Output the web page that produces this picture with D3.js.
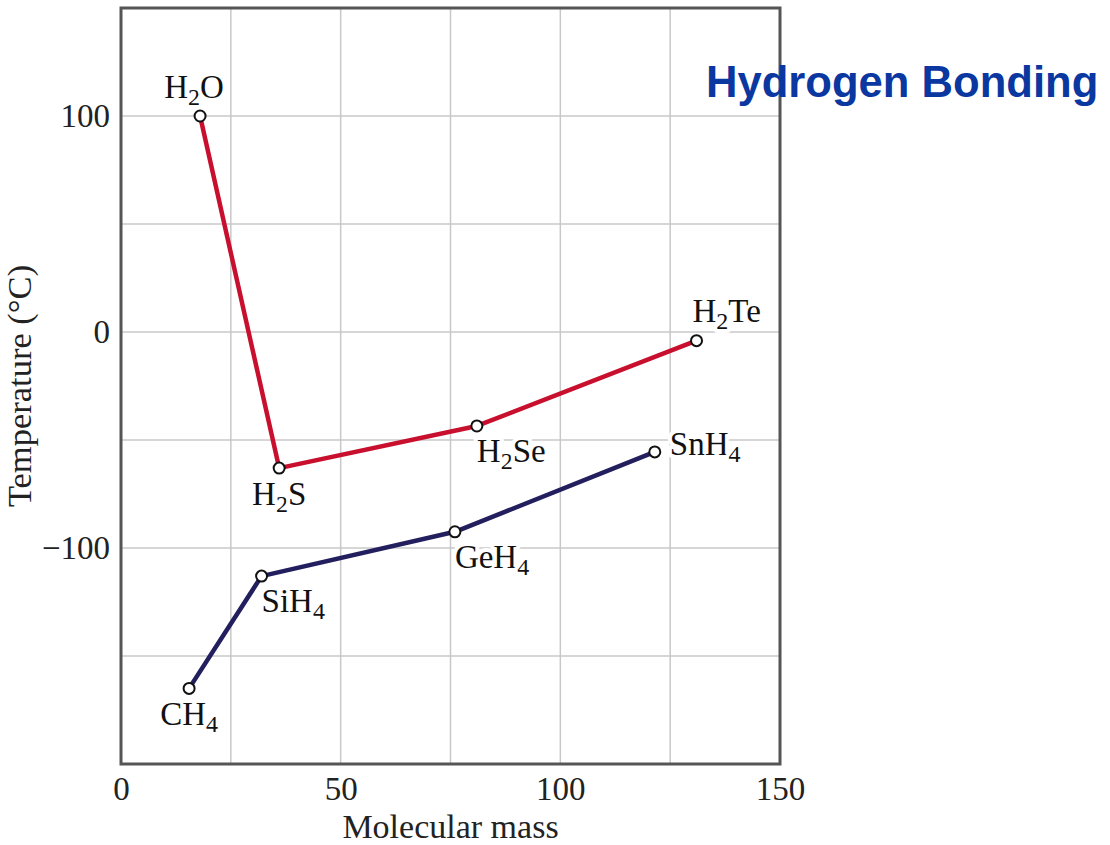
<!DOCTYPE html>
<html><head><meta charset="utf-8">
<script src="https://cdn.jsdelivr.net/npm/d3@7/dist/d3.min.js"></script>
<style>body{margin:0;background:#fff}</style>
</head><body>
<svg id="c" width="1110" height="845"></svg>
<script>
// Data
const hydrideNames = ["H2O", "H2S", "H2Se", "H2Te"];
const hydrideMass  = [18, 36, 81, 131];
const hydrideTemp  = [100, -63, -43.5, -4];
const hydridePlace = ["above", "below", "belowRight", "aboveRight"];

const group14Names = ["CH4", "SiH4", "GeH4", "SnH4"];
const group14Mass  = [15.5, 32, 76, 121.5];
const group14Temp  = [-165, -113, -92.5, -55.5];
const group14Place = ["below", "belowRight", "belowRight", "right"];

const xTicks = [0, 50, 100, 150];
const yTicks = [100, 0, -100];
const xGrid = [25, 50, 75, 100, 125];
const yGrid = [-150, -100, -50, 0, 50, 100];

const svg = d3.select("#c");
const x = d3.scaleLinear().domain([0, 150]).range([121, 780]);
const y = d3.scaleLinear().domain([-200, 150]).range([764, 8]);
const serif = "'Liberation Serif', 'Times New Roman', serif";

// grid
svg.append("g").selectAll("line").data(xGrid).join("line")
  .attr("x1", d => x(d)).attr("x2", d => x(d)).attr("y1", y(150)).attr("y2", y(-200))
  .attr("stroke", "#c8c8c8").attr("stroke-width", 1.5);
svg.append("g").selectAll("line").data(yGrid).join("line")
  .attr("y1", d => y(d)).attr("y2", d => y(d)).attr("x1", x(0)).attr("x2", x(150))
  .attr("stroke", "#c8c8c8").attr("stroke-width", 1.5);

// axes (labels only)
const xAxis = d3.axisBottom(x).tickValues(xTicks).tickSize(0).tickPadding(13).tickFormat(d3.format("d"));
const gx = svg.append("g").attr("transform", `translate(0,${y(-200)})`).call(xAxis);
gx.select(".domain").remove();
gx.selectAll("text").attr("font-family", serif).attr("font-size", 33).attr("fill", "#222").attr("dy", "0.71em");

const yAxis = d3.axisLeft(y).tickValues(yTicks).tickSize(0).tickPadding(11)
  .tickFormat(d => d < 0 ? "\u2212" + Math.abs(d) : String(d));
const gy = svg.append("g").attr("transform", `translate(${x(0)},0)`).call(yAxis);
gy.select(".domain").remove();
gy.selectAll("text").attr("font-family", serif).attr("font-size", 33).attr("fill", "#222");

// frame
svg.append("rect").attr("x", x(0)).attr("y", y(150))
  .attr("width", x(150) - x(0)).attr("height", y(-200) - y(150))
  .attr("fill", "none").attr("stroke", "#555").attr("stroke-width", 3);

// axis titles
svg.append("text").attr("x", (x(0) + x(150)) / 2).attr("y", 838)
  .attr("text-anchor", "middle").attr("font-family", serif).attr("font-size", 34).attr("fill", "#222")
  .text("Molecular mass");
svg.append("text").attr("transform", `translate(31,${(y(150) + y(-200)) / 2}) rotate(-90)`)
  .attr("text-anchor", "middle").attr("font-family", serif).attr("font-size", 34.5).attr("fill", "#222")
  .text("Temperature (°C)");

// title
svg.append("text").attr("x", 706).attr("y", 97)
  .attr("font-family", "'Liberation Sans', Arial, sans-serif").attr("font-weight", "bold")
  .attr("font-size", 43.6).attr("fill", "#0a37a0").text("Hydrogen Bonding");

const offsets = {
  above: {dx: -6, dy: -18, anchor: "middle"},
  below: {dx: 0, dy: 37, anchor: "middle"},
  belowRight: {dx: 0, dy: 36, anchor: "start"},
  aboveRight: {dx: -4, dy: -19, anchor: "start"},
  right: {dx: 15, dy: 3, anchor: "start"}
};

function drawSeries(names, mass, temp, place, color) {
  const pts = names.map((n, i) => ({n, m: mass[i], t: temp[i], p: place[i]}));
  const line = d3.line().x(d => x(d.m)).y(d => y(d.t));
  svg.append("path").datum(pts).attr("d", line).attr("fill", "none")
    .attr("stroke", color).attr("stroke-width", 4.5).attr("stroke-linejoin", "round");
  svg.append("g").selectAll("circle").data(pts).join("circle")
    .attr("cx", d => x(d.m)).attr("cy", d => y(d.t)).attr("r", 5.5)
    .attr("fill", "#fff").attr("stroke", "#111").attr("stroke-width", 2);
  const labels = svg.append("g").selectAll("text").data(pts).join("text")
    .attr("x", d => x(d.m) + offsets[d.p].dx).attr("y", d => y(d.t) + offsets[d.p].dy)
    .attr("text-anchor", d => offsets[d.p].anchor)
    .attr("font-family", serif).attr("font-size", 33).attr("fill", "#111")
    .attr("stroke", "#fff").attr("stroke-width", 8).attr("paint-order", "stroke")
    .attr("stroke-linejoin", "round");
  labels.each(function(d) {
    const t = d3.select(this);
    const parts = d.n.match(/[A-Za-z]+|\d+/g);
    let sub = false;
    parts.forEach(p => {
      const isNum = /\d/.test(p);
      const ts = t.append("tspan").text(p);
      if (isNum) { ts.attr("font-size", 24).attr("dy", 7); sub = true; }
      else if (sub) { ts.attr("dy", -7); sub = false; }
    });
  });
}

drawSeries(hydrideNames, hydrideMass, hydrideTemp, hydridePlace, "#c8102e");
drawSeries(group14Names, group14Mass, group14Temp, group14Place, "#231f5e");
</script>
</body></html>
